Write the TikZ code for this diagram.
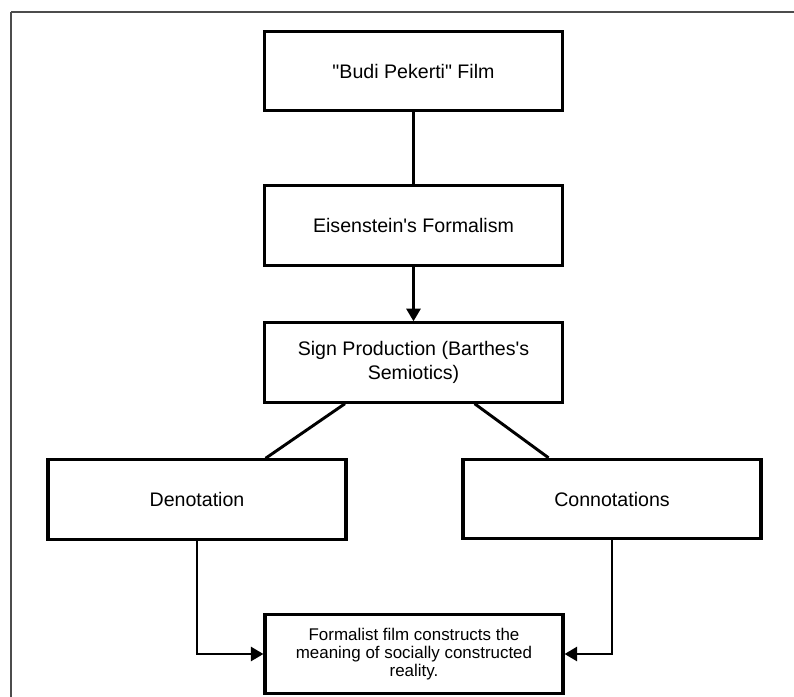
\documentclass[tikz,border=0pt]{standalone}
\usepackage{fontspec}
\setmainfont{Liberation Sans}
\usetikzlibrary{arrows.meta}

\begin{document}
\begin{tikzpicture}[x=0.75pt, y=-0.75pt,
  box/.style={draw, line width=2.3pt, rectangle, minimum width=223.5pt, minimum height=59.5pt,
              inner sep=0pt, align=center, font=\fontsize{14.7}{18}\selectfont},
  smallbox/.style={box, font=\fontsize{12.7}{13.6}\selectfont},
  link/.style={line width=2.2pt},
  flow/.style={line width=2.2pt, -{Triangle[length=9.5pt,width=10.5pt]}}]

\useasboundingbox (0,0) rectangle (794,697);

% outer frame (only top and left edges are visible)
\draw [line width=1.5pt, black!70] (11,12) -- (794,12);
\draw [line width=1.5pt, black!70] (11,12) -- (11,697);

% boxes
\node[box] (film)   at (413.5, 71.0) {\textquotedbl Budi Pekerti\textquotedbl{} Film};
\node[box] (eisen)  at (413.5,225.5) {Eisenstein\textquotesingle s Formalism};
\node[box] (sign)   at (413.5,362.5) {Sign Production (Barthes\textquotesingle s\\Semiotics)};
\node[box] (deno)   at (197.0,499.5) {Denotation};
\node[box] (conno)  at (612.0,499.0) {Connotations};
\node[smallbox] (meaning) at (414.0,654.0) {Formalist film constructs the\\meaning of socially constructed\\reality.};

% connectors
\draw [link] (film.south) -- (eisen.north);
\draw [flow] (eisen.south) -- (sign.north);
\draw [link] (sign.211) -- (deno.31);
\draw [link] (sign.326) -- (conno.147);
\draw [flow] (deno.south) |- (meaning.west);
\draw [flow] (conno.south) |- (meaning.east);

\end{tikzpicture}
\end{document}
